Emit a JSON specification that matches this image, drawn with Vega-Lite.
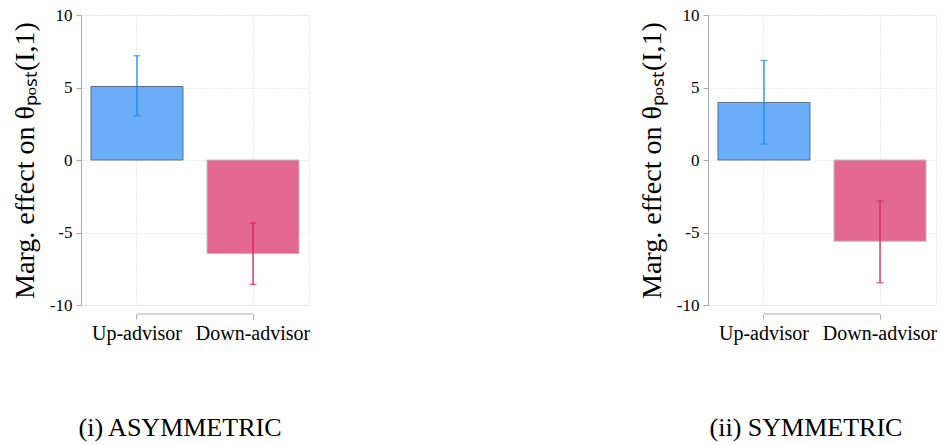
{
  "$schema": "https://vega.github.io/schema/vega-lite/v6.json",
  "background": "white",
  "padding": {"left": 10, "top": 5, "right": 5, "bottom": 5},
  "datasets": {
    "asym": [
      {"advisor": "Up-advisor", "effect": 5.07, "lo": 3.06, "hi": 7.19},
      {"advisor": "Down-advisor", "effect": -6.45, "lo": -8.58, "hi": -4.34}
    ],
    "sym": [
      {"advisor": "Up-advisor", "effect": 3.97, "lo": 1.1, "hi": 6.87},
      {"advisor": "Down-advisor", "effect": -5.6, "lo": -8.47, "hi": -2.84}
    ]
  },
  "spacing": 326,
  "hconcat": [
    {
      "width": 228,
      "height": 290,
      "data": {"name": "asym"},
      "title": {"text": "(i) ASYMMETRIC", "orient": "bottom", "dx": -15, "offset": 72},
      "encoding": {
        "x": {
          "field": "advisor", "type": "nominal", "sort": ["Up-advisor", "Down-advisor"],
          "scale": {"paddingInner": 0.207, "paddingOuter": 0.086},
          "axis": {"title": null, "labelAngle": 0, "bandPosition": 0.5, "offset": 9, "domain": false, "tickSize": 5, "tickColor": "#aaaaaa", "grid": true, "gridDash": [1, 2], "gridColor": "#d8d8d8", "labelFont": "Liberation Serif", "labelFontSize": 20, "labelColor": "black", "labelPadding": 4}
        }
      },
      "layer": [
        {
          "mark": {"type": "bar", "strokeWidth": 1},
          "encoding": {
            "y": {"field": "effect", "type": "quantitative", "title": "Marg. effect on θₚₒₛₜ(I,1)", "scale": {"domain": [-10, 10], "nice": false},
              "axis": {"values": [-10, -5, 0, 5, 10], "labelExpr": "'' + datum.value", "titleFont": "Liberation Serif", "titleFontSize": 28, "titleFontWeight": "normal", "titleColor": "black", "labelFont": "Liberation Serif", "labelFontSize": 17, "labelColor": "black", "tickSize": 5, "tickColor": "#aaaaaa", "domainColor": "#aaaaaa", "gridColor": "#d8d8d8", "gridDash": [1, 2], "labelPadding": 4, "titlePadding": 10}},
            "color": {"field": "advisor", "type": "nominal", "scale": {"domain": ["Up-advisor", "Down-advisor"], "range": ["#6aaefa", "#e36892"]}, "legend": null},
            "stroke": {"field": "advisor", "type": "nominal", "scale": {"domain": ["Up-advisor", "Down-advisor"], "range": ["#5d6f84", "#bdbdbd"]}, "legend": null}
          }
        },
        {
          "mark": {"type": "errorbar", "ticks": {"size": 7}, "thickness": 1.3},
          "encoding": {
            "y": {"field": "lo", "type": "quantitative", "title": "Marg. effect on θₚₒₛₜ(I,1)"},
            "y2": {"field": "hi"},
            "color": {"field": "advisor", "type": "nominal", "scale": {"domain": ["Up-advisor", "Down-advisor"], "range": ["#1e88f0", "#d81b60"]}, "legend": null}
          }
        },
        {
          "data": {"values": [{}]},
          "mark": {"type": "rule", "clip": false, "color": "#aaaaaa", "strokeWidth": 1},
          "encoding": {"x": {"datum": "Up-advisor"}, "x2": {"datum": "Down-advisor"}, "y": {"datum": -10.62}}
        }
      ],
      "resolve": {"scale": {"color": "independent"}}
    },
    {
      "width": 228,
      "height": 290,
      "data": {"name": "sym"},
      "title": {"text": "(ii) SYMMETRIC", "orient": "bottom", "dx": -16, "offset": 72},
      "encoding": {
        "x": {
          "field": "advisor", "type": "nominal", "sort": ["Up-advisor", "Down-advisor"],
          "scale": {"paddingInner": 0.207, "paddingOuter": 0.086},
          "axis": {"title": null, "labelAngle": 0, "bandPosition": 0.5, "offset": 9, "domain": false, "tickSize": 5, "tickColor": "#aaaaaa", "grid": true, "gridDash": [1, 2], "gridColor": "#d8d8d8", "labelFont": "Liberation Serif", "labelFontSize": 20, "labelColor": "black", "labelPadding": 4}
        }
      },
      "layer": [
        {
          "mark": {"type": "bar", "strokeWidth": 1},
          "encoding": {
            "y": {"field": "effect", "type": "quantitative", "title": "Marg. effect on θₚₒₛₜ(I,1)", "scale": {"domain": [-10, 10], "nice": false},
              "axis": {"values": [-10, -5, 0, 5, 10], "labelExpr": "'' + datum.value", "titleFont": "Liberation Serif", "titleFontSize": 28, "titleFontWeight": "normal", "titleColor": "black", "labelFont": "Liberation Serif", "labelFontSize": 17, "labelColor": "black", "tickSize": 5, "tickColor": "#aaaaaa", "domainColor": "#aaaaaa", "gridColor": "#d8d8d8", "gridDash": [1, 2], "labelPadding": 4, "titlePadding": 10}},
            "color": {"field": "advisor", "type": "nominal", "scale": {"domain": ["Up-advisor", "Down-advisor"], "range": ["#6aaefa", "#e36892"]}, "legend": null},
            "stroke": {"field": "advisor", "type": "nominal", "scale": {"domain": ["Up-advisor", "Down-advisor"], "range": ["#5d6f84", "#bdbdbd"]}, "legend": null}
          }
        },
        {
          "mark": {"type": "errorbar", "ticks": {"size": 7}, "thickness": 1.3},
          "encoding": {
            "y": {"field": "lo", "type": "quantitative", "title": "Marg. effect on θₚₒₛₜ(I,1)"},
            "y2": {"field": "hi"},
            "color": {"field": "advisor", "type": "nominal", "scale": {"domain": ["Up-advisor", "Down-advisor"], "range": ["#1e88f0", "#d81b60"]}, "legend": null}
          }
        },
        {
          "data": {"values": [{}]},
          "mark": {"type": "rule", "clip": false, "color": "#aaaaaa", "strokeWidth": 1},
          "encoding": {"x": {"datum": "Up-advisor"}, "x2": {"datum": "Down-advisor"}, "y": {"datum": -10.62}}
        }
      ],
      "resolve": {"scale": {"color": "independent"}}
    }
  ],
  "config": {
    "view": {"stroke": "#d8d8d8", "strokeDash": [1, 2]},
    "title": {"font": "Liberation Serif", "fontSize": 26, "fontWeight": "normal", "color": "black", "anchor": "middle"}
  }
}
